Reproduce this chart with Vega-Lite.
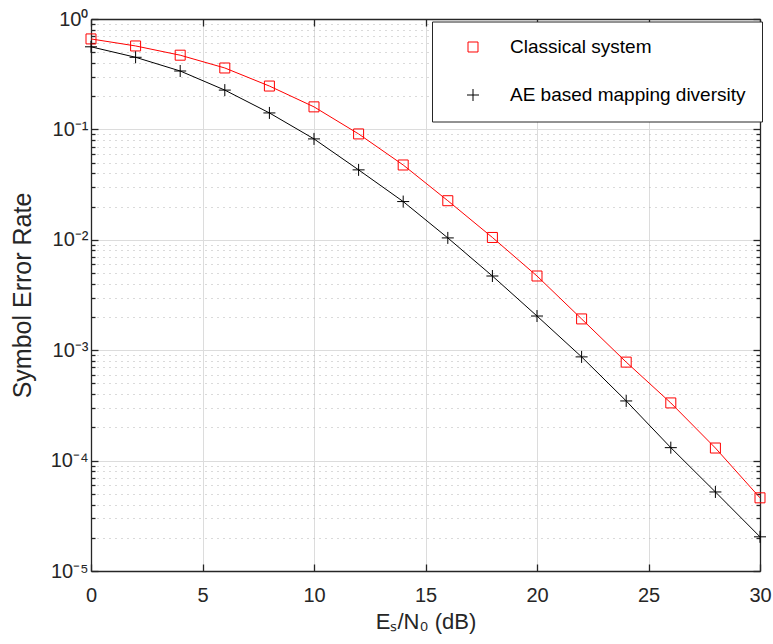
{
  "$schema": "https://vega.github.io/schema/vega-lite/v6.json",
  "width": 669,
  "height": 552,
  "autosize": "none",
  "padding": {"left": 91, "top": 19, "right": 13, "bottom": 73},
  "background": "white",
  "config": {
    "font": "Liberation Sans",
    "view": {"stroke": null},
    "axis": {
      "domainColor": "#262626",
      "domainWidth": 1.3,
      "tickColor": "#262626",
      "tickWidth": 1.3,
      "labelColor": "#262626",
      "titleColor": "#262626",
      "labelFont": "Liberation Sans",
      "titleFont": "Liberation Sans",
      "labelFontSize": 20,
      "titleFontWeight": "normal",
      "labelFlush": false,
      "labelOverlap": false
    },
    "legend": {
      "orient": "none",
      "legendX": 341,
      "legendY": 2.5,
      "padding": 16,
      "rowPadding": 28,
      "symbolSize": 144,
      "symbolStrokeWidth": 1,
      "symbolOffset": 15.5,
      "labelOffset": 27.5,
      "labelFontSize": 19,
      "labelFont": "Liberation Sans",
      "labelColor": "#000000",
      "labelLimit": 400,
      "strokeColor": "#262626",
      "fillColor": "#ffffff"
    }
  },
  "data": {
    "values": [
      {"series": "Classical system", "snr": 0, "ser": 0.66},
      {"series": "Classical system", "snr": 2, "ser": 0.57},
      {"series": "Classical system", "snr": 4, "ser": 0.47},
      {"series": "Classical system", "snr": 6, "ser": 0.36},
      {"series": "Classical system", "snr": 8, "ser": 0.247},
      {"series": "Classical system", "snr": 10, "ser": 0.16},
      {"series": "Classical system", "snr": 12, "ser": 0.091},
      {"series": "Classical system", "snr": 14, "ser": 0.0476},
      {"series": "Classical system", "snr": 16, "ser": 0.0226},
      {"series": "Classical system", "snr": 18, "ser": 0.0105},
      {"series": "Classical system", "snr": 20, "ser": 0.0047},
      {"series": "Classical system", "snr": 22, "ser": 0.00192},
      {"series": "Classical system", "snr": 24, "ser": 0.00078},
      {"series": "Classical system", "snr": 26, "ser": 0.000333},
      {"series": "Classical system", "snr": 28, "ser": 0.00013},
      {"series": "Classical system", "snr": 30, "ser": 0.000046},
      {"series": "AE based mapping diversity", "snr": 0, "ser": 0.56},
      {"series": "AE based mapping diversity", "snr": 2, "ser": 0.45},
      {"series": "AE based mapping diversity", "snr": 4, "ser": 0.338},
      {"series": "AE based mapping diversity", "snr": 6, "ser": 0.227},
      {"series": "AE based mapping diversity", "snr": 8, "ser": 0.141},
      {"series": "AE based mapping diversity", "snr": 10, "ser": 0.082},
      {"series": "AE based mapping diversity", "snr": 12, "ser": 0.043},
      {"series": "AE based mapping diversity", "snr": 14, "ser": 0.0222},
      {"series": "AE based mapping diversity", "snr": 16, "ser": 0.0104},
      {"series": "AE based mapping diversity", "snr": 18, "ser": 0.0047},
      {"series": "AE based mapping diversity", "snr": 20, "ser": 0.00204},
      {"series": "AE based mapping diversity", "snr": 22, "ser": 0.00087},
      {"series": "AE based mapping diversity", "snr": 24, "ser": 0.000347},
      {"series": "AE based mapping diversity", "snr": 26, "ser": 0.000131},
      {"series": "AE based mapping diversity", "snr": 28, "ser": 0.000052},
      {"series": "AE based mapping diversity", "snr": 30, "ser": 0.0000204}
    ]
  },
  "layer": [
    {
      "mark": {"type": "line", "strokeWidth": 1},
      "encoding": {
        "x": {
          "field": "snr", "type": "quantitative",
          "scale": {"domain": [0, 30], "nice": false},
          "axis": {
            "orient": "bottom",
            "values": [0, 5, 10, 15, 20, 25, 30],
            "title": "Eₛ/N₀ (dB)",
            "titleFontSize": 22,
            "grid": true,
            "gridColor": "#dcdcdc",
            "gridWidth": 1,
            "tickSize": -7,
            "labelPadding": 21,
            "titlePadding": 6
          }
        },
        "y": {
          "field": "ser", "type": "quantitative",
          "scale": {"type": "log", "domain": [0.00001, 1], "nice": false},
          "axis": {
            "orient": "left",
            "values": [0.00001, 0.00002, 0.00003, 0.00004, 0.00005, 0.00006, 0.00007, 0.00008, 0.00009,
                       0.0001, 0.0002, 0.0003, 0.0004, 0.0005, 0.0006, 0.0007, 0.0008, 0.0009,
                       0.001, 0.002, 0.003, 0.004, 0.005, 0.006, 0.007, 0.008, 0.009,
                       0.01, 0.02, 0.03, 0.04, 0.05, 0.06, 0.07, 0.08, 0.09,
                       0.1, 0.2, 0.3, 0.4, 0.5, 0.6, 0.7, 0.8, 0.9, 1],
            "title": "Symbol Error Rate",
            "titleFontSize": 25,
            "labelExpr": "abs(log(datum.value)/LN10 - round(log(datum.value)/LN10)) < 0.001 ? ['10⁰','10⁻¹','10⁻²','10⁻³','10⁻⁴','10⁻⁵'][-round(log(datum.value)/LN10)] : ''",
            "grid": true,
            "gridColor": {"condition": {"test": "abs(log(datum.value)/LN10 - round(log(datum.value)/LN10)) < 0.001", "value": "#dcdcdc"}, "value": "#b4b4b4"},
            "gridDash": {"condition": {"test": "abs(log(datum.value)/LN10 - round(log(datum.value)/LN10)) < 0.001", "value": []}, "value": [1, 5]},
            "tickSize": {"condition": {"test": "abs(log(datum.value)/LN10 - round(log(datum.value)/LN10)) < 0.001", "value": -7}, "value": -4},
            "labelPadding": 10,
            "titlePadding": 15
          }
        },
        "color": {
          "field": "series", "type": "nominal",
          "scale": {"domain": ["Classical system", "AE based mapping diversity"], "range": ["#ff0000", "#000000"]},
          "legend": {
            "title": null,
            "encode": {
              "symbols": {
                "update": {
                  "fill": {"value": "transparent"},
                  "size": {"value": 144}
                }
              }
            }
          }
        }
      }
    },
    {
      "mark": {"type": "point", "filled": false, "size": 144, "strokeWidth": 1, "opacity": 1},
      "encoding": {
        "x": {
          "field": "snr", "type": "quantitative",
          "axis": {
            "orient": "top",
            "values": [0, 5, 10, 15, 20, 25, 30],
            "title": null,
            "labels": false,
            "grid": false,
            "tickSize": -7
          }
        },
        "y": {
          "field": "ser", "type": "quantitative",
          "axis": {
            "orient": "right",
            "values": [0.00001, 0.00002, 0.00003, 0.00004, 0.00005, 0.00006, 0.00007, 0.00008, 0.00009,
                       0.0001, 0.0002, 0.0003, 0.0004, 0.0005, 0.0006, 0.0007, 0.0008, 0.0009,
                       0.001, 0.002, 0.003, 0.004, 0.005, 0.006, 0.007, 0.008, 0.009,
                       0.01, 0.02, 0.03, 0.04, 0.05, 0.06, 0.07, 0.08, 0.09,
                       0.1, 0.2, 0.3, 0.4, 0.5, 0.6, 0.7, 0.8, 0.9, 1],
            "title": null,
            "labels": false,
            "grid": false,
            "tickSize": {"condition": {"test": "abs(log(datum.value)/LN10 - round(log(datum.value)/LN10)) < 0.001", "value": -7}, "value": -4}
          }
        },
        "color": {
          "field": "series", "type": "nominal",
          "legend": {
            "title": null,
            "encode": {
              "symbols": {
                "update": {
                  "fill": {"value": "transparent"},
                  "size": {"value": 144}
                }
              }
            }
          }
        },
        "shape": {
          "field": "series", "type": "nominal",
          "scale": {"domain": ["Classical system", "AE based mapping diversity"], "range": ["M-0.833,-0.833H0.833V0.833H-0.833Z", "M-1,0H1M0,-1V1"]},
          "legend": null
        }
      }
    }
  ],
  "resolve": {"axis": {"x": "independent", "y": "independent"}}
}
